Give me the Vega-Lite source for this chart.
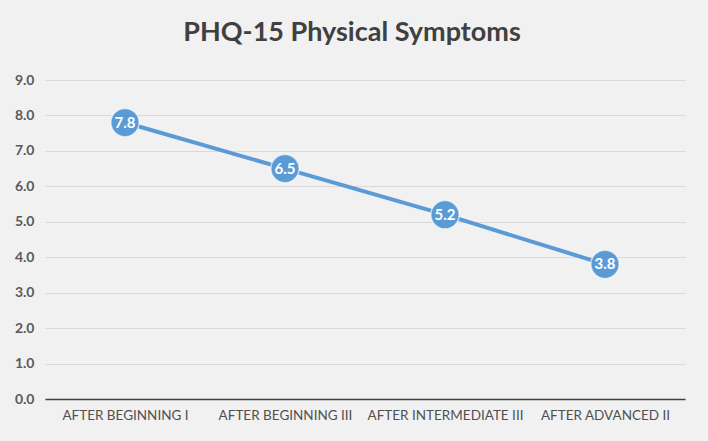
{
  "$schema": "https://vega.github.io/schema/vega-lite/v6.json",
  "width": 640,
  "height": 319,
  "autosize": {"type": "none"},
  "padding": {"left": 45, "top": 80, "right": 23, "bottom": 42},
  "background": "#f1f1f1",
  "title": {
    "text": "PHQ-15 Physical Symptoms",
    "font": "Lato",
    "fontSize": 27,
    "fontWeight": "bold",
    "color": "#404040",
    "anchor": "middle",
    "dx": -13,
    "offset": 26
  },
  "data": {
    "values": [
      {"stage": "AFTER BEGINNING I", "score": 7.8},
      {"stage": "AFTER BEGINNING III", "score": 6.5},
      {"stage": "AFTER INTERMEDIATE III", "score": 5.2},
      {"stage": "AFTER ADVANCED II", "score": 3.8}
    ]
  },
  "encoding": {
    "x": {
      "field": "stage",
      "type": "nominal",
      "sort": null,
      "title": null,
      "axis": {
        "labelAngle": 0,
        "labelFont": "Lato",
        "labelFontSize": 13.5,
        "labelColor": "#505050",
        "labelPadding": 9,
        "ticks": false,
        "domainColor": "#404040",
        "domainWidth": 1.5,
        "grid": false
      }
    },
    "y": {
      "field": "score",
      "type": "quantitative",
      "title": null,
      "scale": {"domain": [0, 9], "nice": false},
      "axis": {
        "values": [0, 1, 2, 3, 4, 5, 6, 7, 8, 9],
        "format": ".1f",
        "labelFont": "Lato",
        "labelFontSize": 14,
        "labelFontWeight": "bold",
        "labelColor": "#595959",
        "labelPadding": 11,
        "ticks": false,
        "domain": false,
        "gridColor": "#d9d9d9",
        "gridWidth": 1
      }
    }
  },
  "layer": [
    {"mark": {"type": "line", "color": "#5b9bd5", "strokeWidth": 4}},
    {"mark": {"type": "point", "shape": "circle", "filled": true, "size": 800, "color": "#5b9bd5", "stroke": "#ffffff", "strokeWidth": 1.5, "strokeOpacity": 0.6, "opacity": 1}},
    {"mark": {"type": "text", "color": "#ffffff", "font": "Lato", "fontSize": 15, "fontWeight": "bold"}, "encoding": {"text": {"field": "score", "type": "quantitative", "format": ".1f"}}}
  ],
  "config": {"view": {"stroke": null}}
}
